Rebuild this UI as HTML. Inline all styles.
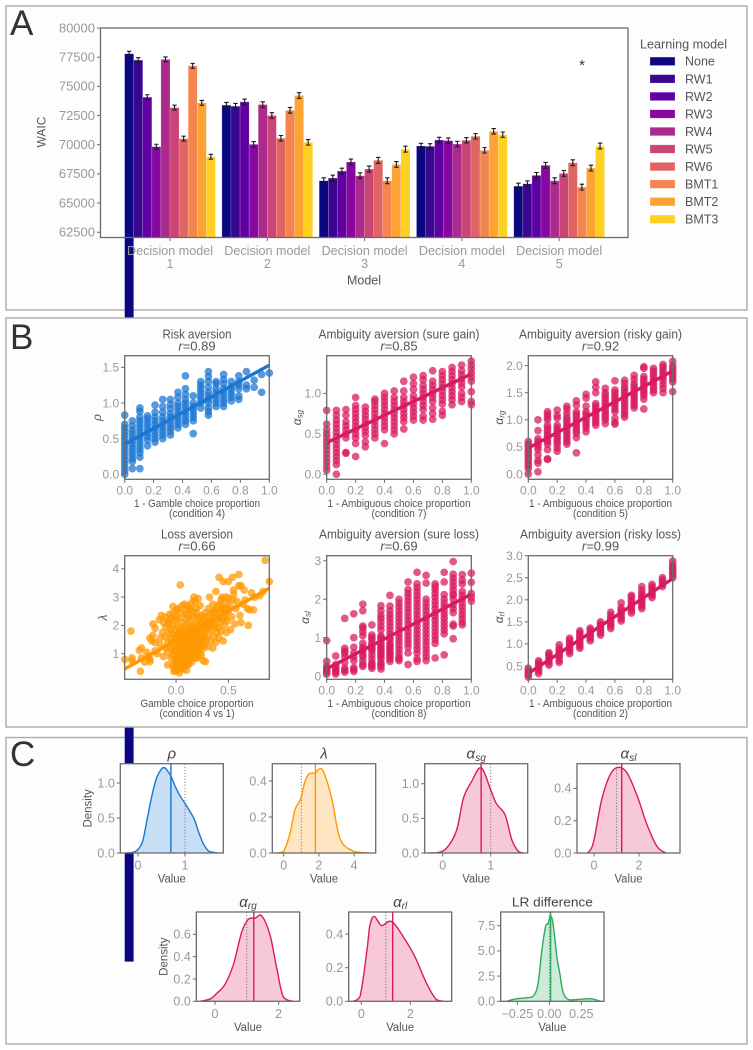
<!DOCTYPE html>
<html lang="en">
<head>
<meta charset="utf-8">
<title>Model comparison figure</title>
<style>
html,body{margin:0;padding:0;background:#fff;width:753px;height:1050px;overflow:hidden}
svg{display:block;font-family:"Liberation Sans","DejaVu Sans",sans-serif}
</style>
</head>
<body>
<svg id="fig" xmlns="http://www.w3.org/2000/svg" width="753" height="1050" viewBox="0 0 753 1050">
  <defs>
    <clipPath id="clipA"><rect x="100.5" y="28" width="527.5" height="209.5"/></clipPath>
  </defs>
  <g id="layerBack">
    <rect x="6" y="6" width="741" height="304" fill="#fdfdfd" stroke="#aaa" stroke-width="1.4"/>
    <rect x="6" y="737.5" width="741" height="306.5" fill="#fdfdfd" stroke="#aaa" stroke-width="1.4"/>
  </g>
  <g id="layerBars"></g>
  <g id="layerA"></g>
  <rect x="6" y="318" width="741" height="409" fill="#fdfdfd" stroke="#aaa" stroke-width="1.4"/>
  <g id="layerB"></g>
  <g id="layerC"></g>
</svg>
<script>
// ---------- Panel A data ----------
const decisionModels = ["1","2","3","4","5"];
const learningModels = ["None","RW1","RW2","RW3","RW4","RW5","RW6","BMT1","BMT2","BMT3"];
const learningColors = ["#0a0780","#3a0591","#5f00a3","#87089f","#ad2a8d","#cb4476","#e06462","#f48550","#fda334","#fed023"];
const waicModel1 = [77795,77250,74070,69830,77310,73180,70520,76760,73585,68970];
const waicModel2 = [73385,73300,73670,70030,73440,72500,70550,72955,74215,70205];
const waicModel3 = [66910,67140,67740,68520,67340,67920,68660,66910,68310,69620];
const waicModel4 = [69890,69860,70405,70350,70060,70380,70720,69520,71150,70860];
const waicModel5 = [66450,66650,67370,68230,66910,67540,68460,66370,68000,69890];
const waicErrors = [210,240,250,230,250];
const waicTicks = [62500,65000,67500,70000,72500,75000,77500,80000];

// ---------- Panel B data ----------
const riskX = [0,.053,.105,.158,.21,.263,.316,.368,.42,.474,.526,.579,.632,.684,.737,.789,.842,.895,.947,1];
const riskY = [
[0,.05,.1,.15,.2,.25,.3,.35,.4,.45,.5,.55,.6,.65,.7,.83],
[.08,.18,.22,.27,.32,.37,.42,.47,.52,.57,.62,.68,.75],
[.08,.24,.3,.35,.4,.45,.5,.55,.6,.65,.7,.75,.8,.88,.93],
[.4,.48,.53,.58,.63,.68,.73,.78,.82],
[.45,.5,.55,.6,.65,.7,.75,.8,.87,.97],
[.5,.55,.6,.65,.7,.75,.8,.87,.95,1.05],
[.55,.6,.65,.7,.75,.8,.85,.92,.98,1.05],
[.65,.7,.75,.8,.85,.9,.95,1,1.08,1.15],
[.7,.75,.8,.85,.9,.95,1,1.05,1.12,1.2,1.38],
[.57,.75,.8,.85,.9,.95,1,1.1],
[.93,1,1.05,1.1,1.15,1.2,1.25,1.3],
[.83,.88,.93,1,1.05,1.1,1.15,1.22,1.3,1.37,1.44],
[.95,1,1.05,1.1,1.15,1.2,1.27,1.3],
[.95,1,1.05,1.1,1.15,1.2,1.27,1.33,1.4],
[1.03,1.08,1.13,1.18,1.23,1.3],
[1.05,1.1,1.2,1.25,1.3,1.38],
[1.2,1.25,1.44],
[1.22,1.32],
[1.15,1.4],
[1.42]];
const riskLine = [.42,1.53];

const sureGainX = [0,.067,.133,.2,.267,.333,.4,.467,.533,.6,.667,.733,.8,.867,.933,1];
const sureGainY = [
[.05,.1,.15,.2,.25,.3,.35,.4,.45,.5,.55,.62,.79],
[0,.12,.17,.22,.27,.32,.37,.42,.47,.52,.57,.62,.67,.73,.79],
[.26,.27,.45,.5,.55,.6,.65,.73,.8],
[.22,.38,.45,.5,.55,.6,.65,.7,.75,.8,.85,.95],
[.34,.4,.48,.53,.58,.63,.68,.73,.78,.83],
[.45,.5,.55,.6,.65,.7,.75,.8,.85,.9,.93],
[.38,.55,.6,.65,.7,.75,.8,.85,.9,.95,1],
[.5,.55,.6,.65,.7,.75,.8,.85,.9,.95,1.03],
[.56,.65,.7,.75,.8,.85,.9,.95,1.03,1.15],
[.67,.72,.77,.82,.87,.92,.97,1.05,1.12,1.2],
[.67,.72,.8,.85,.9,.95,1,1.05,1.1,1.17,1.22],
[.68,.75,.82,.9,.95,1,1.05,1.1,1.15,1.28],
[.73,.78,.87,.92,.97,1.02,1.07,1.12,1.17,1.22,1.27],
[.86,.92,.97,1.02,1.07,1.12,1.17,1.22,1.27,1.32],
[.9,.95,1,1.08,1.13,1.18,1.23,1.28,1.35],
[.86,.9,1.02,1.15,1.2,1.25,1.3,1.35,1.4]];
const sureGainLine = [.39,1.24];

const riskyGainX = [0,.067,.133,.2,.267,.333,.4,.467,.533,.6,.667,.733,.8,.867,.933,1];
const riskyGainY = [
[0,.1,.15,.2,.25,.3,.35,.4,.45,.5,.55,.6],
[.04,.2,.25,.35,.45,.5,.55,.6,.65,.8,1],
[.27,.28,.45,.55,.6,.65,.7,.75,.8,.85,.9,1,1.05,1.1,1.15],
[.42,.48,.55,.6,.65,.7,.75,.8,.85,.9,1.03,1.08,1.18],
[.55,.6,.65,.7,.75,.8,.85,.9,.95,1,1.05,1.12,1.2,1.25],
[.39,.67,.75,.8,.85,.9,.95,1,1.05,1.1,1.15,1.27,1.35],
[.78,.85,.9,.95,1,1.05,1.1,1.15,1.25,1.4,1.47],
[.9,.95,1,1.05,1.1,1.15,1.2,1.25,1.3,1.5,1.6,1.7],
[.93,1,1.05,1.1,1.15,1.2,1.25,1.3,1.35,1.4,1.45,1.5,1.58],
[.92,.95,1.03,1.15,1.2,1.25,1.3,1.35,1.4,1.45,1.5,1.55,1.72],
[1.05,1.1,1.15,1.2,1.25,1.3,1.35,1.4,1.45,1.5,1.55,1.6,1.67,1.73],
[1.22,1.27,1.32,1.37,1.42,1.47,1.52,1.57,1.62,1.67,1.75,1.82],
[1.2,1.38,1.45,1.5,1.55,1.6,1.65,1.7,1.75,1.8,1.95,1.98],
[1.5,1.55,1.6,1.65,1.7,1.75,1.8,1.85,1.9,1.95],
[1.5,1.58,1.65,1.72,1.78,1.83,1.88,1.93,1.98,2.02],
[1.52,1.7,1.75,1.8,1.85,1.9,1.95,2,2.08]];
const riskyGainLine = [.48,1.9];

const lossPoints = [
[-.49,.8],[-.43,1.8],[-.42,.75],[-.42,.85],[-.35,1.12],[-.33,1.2],[-.34,.38],[-.33,.85],[-.3,.7],[-.26,.9],[-.25,.72],[-.25,.8],[-.28,1.05],[-.25,1.55],[-.23,1.45],[-.22,1.65],[-.2,1.4],[-.2,1.9],[-.22,2.05],[-.2,1.1],[-.18,1],[-.16,2.2],[-.15,1.3],[-.15,1.55],[-.14,2.35],[-.13,1.75],[-.12,2.1],[-.12,.9],[-.1,1.2],[-.1,1.6],[-.1,1.95],[-.1,2.3],
[-.08,.6],[-.08,1.05],[-.08,1.4],[-.07,1.75],[-.07,2.05],[-.07,2.15],[-.05,.85],[-.05,1.2],[-.05,1.55],[-.05,1.85],[-.05,2.25],[-.03,.6],[-.03,.95],[-.03,1.3],[-.03,1.65],[-.03,2.0],[-.03,2.67],[-.02,.37],[-.01,.75],[-.01,1.1],[-.01,1.45],[-.01,1.8],[-.01,2.2],[0,.4],[.01,.55],[.01,.9],[.01,1.25],[.01,1.6],[.01,2.0],[.01,2.55],[.02,.45],[.02,.7],[.03,1.05],[.03,1.4],[.03,1.75],[.03,2.25],[.03,.32],[.04,.5],[.04,.85],[.04,1.2],[.04,1.55],[.04,1.9],[.04,3.43],[.05,.62],[.05,1],[.06,1.35],[.06,1.7],[.06,2.1],[.06,2.7],[.07,.45],[.07,.8],[.07,1.15],[.07,1.5],[.07,1.85],[.08,.55],[.08,1],[.09,.7],[.09,1.3],[.09,1.65],[.09,2.0],[.09,2.4],[.1,.42],[.1,.9],[.1,1.1],[.1,1.45],[.1,1.8],[.1,2.25],[.11,.6],[.11,2.7],[.12,1.0],[.12,1.25],[.12,1.6],[.12,1.95],[.13,.8],[.13,2.15],[.13,2.55],[.14,1.15],[.14,1.4],[.14,1.75],[.15,.9],[.15,2.0],[.15,2.8],[.16,1.3],[.16,1.55],[.16,1.85],[.17,1.05],[.17,2.3],[.17,3.0],[.18,1.2],[.18,1.45],[.18,1.7],[.18,2.05],[.19,.85],[.19,2.6],[.2,1.1],[.2,1.35],[.2,1.6],[.2,1.9],[.21,2.2],[.21,2.95],[.22,1.0],[.22,1.25],[.22,1.5],[.22,1.8],[.23,2.05],[.23,2.7],[.24,1.4],[.24,1.65],[.25,1.15],[.25,1.95],[.25,2.35],[.26,.75],[.26,1.55],[.27,1.3],[.27,1.75],[.28,.72],[.28,2.15],[.29,1.5],[.29,1.9],
[.3,1.25],[.3,2.3],[.31,1.7],[.31,2.6],[.32,2.05],[.32,3.0],[.33,1.45],[.33,2.4],[.34,1.85],[.35,1.2],[.35,2.2],[.35,2.75],[.36,1.6],[.37,2.0],[.37,2.5],[.38,1.4],[.38,3.2],[.39,1.75],[.39,2.3],[.4,1.9],[.4,2.7],[.41,3.7],[.41,1.55],[.42,2.1],[.42,2.45],[.43,2.9],[.43,1.8],[.44,3],[.44,2.2],[.45,3.55],[.45,1.45],[.45,2.6],[.46,2.0],[.47,2.35],[.47,2.8],[.48,3],[.48,1.75],[.49,2.15],[.5,2.5],[.5,3.55],[.5,2.95],[.51,2.7],[.52,1.85],[.53,2.3],[.54,3.7],[.54,2.9],[.55,3.25],[.55,3.1],[.56,2.05],[.57,2.6],[.58,2.85],[.6,3.8],[.6,3.4],[.61,2.35],[.62,3.4],[.62,2.1],[.64,2.75],[.65,3.25],[.66,2.9],[.68,2.6],[.69,2],[.7,2.55],[.72,3.15],[.74,2.55],[.75,3],[.8,3.05],[.83,3.2],[.85,4.3],[.89,3.55],
[-.06,2.4],[-.02,2.45],[0,2.3],[.02,2.6],[.05,2.45],[.08,2.75],[.1,2.55],[.12,2.35],[.14,2.6],[.16,2.4],[.18,2.85],[.2,2.45],[.22,2.3],[.24,2.05],[.26,2.25],[.28,2.45],[.3,2.05],[.31,1.95],[.33,2.15],[.35,2.45],[.36,2.0],[.38,2.55],[.4,2.25],[.42,2.75],[.44,2.55],[.46,2.25],[.48,2.6],
[-.02,.5],[0,.7],[.02,.85],[.03,.55],[.05,.75],[.06,.95],[.08,.7],[.1,.75],[.12,.62],[.14,.85],[.15,.7],[.16,1.0],[.18,.95],[.2,.85],[.22,1.15],[.24,.95],
[-.04,1.4],[-.02,1.1],[0,1.5],[.02,1.15],[.02,1.7],[.05,1.3],[.05,1.8],[.08,1.4],[.08,1.75],[.11,1.3],[.11,1.65],[.13,1.45],[.13,1.8],[.15,1.25],[.15,1.55],[.17,1.4],[.17,1.7],[.19,1.2],[.19,1.55],[.21,1.4],[.21,1.7],[.23,1.3],[.23,1.6],[.25,1.5],[.25,1.8],[.27,1.55],[.27,2.0]];
const lossLine = [.46,3.31];

const sureLossX = [0,.0625,.125,.1875,.25,.3125,.375,.4375,.5,.5625,.625,.6875,.75,.8125,.875,.9375,1];
const sureLossY = [
[.05,.1,.15,.2,.25,.38,.92],
[.05,.1,.15,.2,.25,.3,.52],
[.1,.15,.2,.35,.5,.6,.65,.72,1.5],
[.12,.17,.22,.4,.5,.6,.75,1,1.62],
[.25,.3,.4,.5,.55,.65,.7,.75,.85,1.05,1.15,1.25,1.3,1.7,1.87],
[.2,.25,.3,.35,.45,.55,.65,.7,.75,.8,.85,.95,1,1.07,1.33],
[.18,.25,.3,.35,.45,.5,.55,.6,.65,.7,.75,.8,.85,.95,1,1.05,1.2,1.3,1.4,1.5,1.58,1.7,1.83],
[.38,.45,.5,.55,.6,.65,.7,.75,.8,.85,.95,1,1.1,1.2,1.3,1.4,1.5,1.6,1.7,1.82,2.1],
[.4,.45,.5,.6,.7,.8,.9,1,1.1,1.2,1.3,1.4,1.5,1.6,1.7,1.8,1.9,2],
[.3,.6,.75,.85,.95,1.05,1.15,1.25,1.35,1.45,1.55,1.65,1.75,1.85,1.95,2.05,2.15,2.25,2.45],
[.38,.45,.6,.7,.8,.9,1,1.1,1.2,1.3,1.4,1.5,1.6,1.7,1.8,1.9,2,2.1,2.2,2.3,2.4,2.7],
[.4,.5,.6,.7,.8,.9,1,1.1,1.2,1.3,1.4,1.5,1.6,1.7,1.8,1.9,2,2.42,2.62],
[.47,.85,.95,1.05,1.15,1.25,1.35,1.45,1.55,1.65,1.75,1.85,1.95,2.05,2.15,2.25,2.33,2.4],
[.55,1.1,1.2,1.3,1.4,1.5,1.6,1.7,1.8,1.9,2,2.12,2.45,2.7],
[.97,1.3,1.35,1.65,1.75,1.85,2,2.1,2.15,2.25,2.35,2.45,2.55,2.65,2.98],
[1.33,1.4,1.5,1.6,1.7,1.8,1.9,2,2.1,2.2,2.4,2.5,2.64],
[1.95,2.05,2.15,2.44,2.68]];
const sureLossLine = [.19,2.13];

const riskyLossX = [0,.0714,.143,.214,.286,.357,.429,.5,.571,.643,.714,.786,.857,.929,1];
const riskyLossY = [
[.25,.3,.35,.4,.45],
[.33,.38,.43,.48,.53,.58,.62],
[.52,.57,.62,.67,.72,.77,.8],
[.58,.63,.7,.75,.8,.85,.9,.98],
[.78,.83,.88,.93,.98,1.03,1.08,1.13],
[.9,.95,1,1.05,1.1,1.15,1.2,1.25,1.3],
[1.07,1.12,1.17,1.22,1.27,1.32,1.36],
[1.2,1.25,1.3,1.35,1.4,1.45,1.5],
[1.35,1.4,1.45,1.5,1.55,1.6,1.65,1.72],
[1.52,1.57,1.62,1.67,1.72,1.77,1.82,1.93],
[1.7,1.75,1.8,1.85,1.9,1.95,2,2.07,2.1],
[1.8,1.85,1.9,1.95,2,2.05,2.1,2.15,2.22,2.3],
[2.05,2.1,2.15,2.2,2.25,2.3,2.35],
[2.3,2.35,2.4,2.45,2.5],
[2.5,2.55,2.6,2.65,2.7,2.75,2.8,2.88]];
const riskyLossLine = [.33,2.48];

const propTicks = ["0.0","0.2","0.4","0.6","0.8","1.0"];

// ---------- Panel C data ----------
const rhoX = [-.25,-.1,0,.1,.2,.3,.4,.5,.55,.6,.7,.8,.9,1,1.1,1.2,1.3,1.4,1.5,1.6,1.7];
const rhoY = [0,.01,.05,.17,.5,.83,1.08,1.2,1.22,1.2,1.1,.94,.81,.71,.6,.48,.28,.12,.03,.01,0];
const lambdaX = [-.4,0,.36,.64,.96,1.2,1.45,1.78,2.1,2.35,2.75,3.2,3.96,4.9];
const lambdaY = [0,.01,.11,.24,.3,.395,.44,.445,.47,.43,.295,.08,.01,0];
const sgX = [-.3,-.13,.08,.29,.43,.6,.8,1,1.12,1.3,1.44,1.58,1.68];
const sgY = [0,.002,.07,.33,.79,1.03,1.23,.91,.71,.55,.19,.02,0];
const slX = [-.3,-.16,0,.34,.7,1.04,1.45,1.93,2.34,2.8,3.2];
const slY = [0,.02,.08,.33,.48,.53,.5,.35,.18,.04,0];
const rgX = [-.47,-.16,.05,.31,.58,.84,1.05,1.26,1.47,1.73,1.94,2.15,2.46];
const rgY = [0,.02,.07,.15,.33,.62,.735,.745,.765,.595,.3,.04,0];
const rlX = [-.33,-.05,.22,.35,.53,.83,1.24,1.71,2.19,2.67,3.07,3.4];
const rlY = [0,.03,.29,.45,.505,.45,.475,.385,.265,.105,.01,0];
const lrX = [-.33,-.28,-.18,-.13,-.09,-.06,-.03,-.01,.01,.03,.06,.08,.11,.16,.24,.33,.4];
const lrY = [0,.2,.35,.46,1.6,4.9,7.4,7.7,8.45,7.6,4.3,2.9,.8,.13,.2,.25,0];

// ---------- helpers ----------
const NS = "http://www.w3.org/2000/svg";
const C_TICK = "#999", C_LABEL = "#555", C_SPINE = "#6b6b6b";
function mk(tag, parent, attrs){
  const el = document.createElementNS(NS, tag);
  for(const k in (attrs||{})) el.setAttribute(k, attrs[k]);
  parent.appendChild(el);
  return el;
}
function txt(parent, str, x, y, size, color, anchor, width){
  const a = {x:x, y:y, "font-size":size, fill:color, "text-anchor":anchor||"middle"};
  if(width){ a.textLength = width; a.lengthAdjust = "spacingAndGlyphs"; }
  const el = mk("text", parent, a);
  el.textContent = str;
  return el;
}
function mathText(parent, base, sub, x, y, size, color, rot){
  const el = mk("text", parent, {x:x, y:y, "font-size":size, fill:color, "text-anchor":"middle", "font-style":"italic"});
  if(rot) el.setAttribute("transform", "rotate(-90 "+x+" "+y+")");
  const b = mk("tspan", el, {});
  b.textContent = base;
  if(sub){
    const s = mk("tspan", el, {"font-size":size*0.68, dy:size*0.14});
    s.textContent = sub;
  }
  return el;
}
function linear(d0, d1, r0, r1){ return v => r0 + (v - d0) / (d1 - d0) * (r1 - r0); }
function smoothPath(pts){
  let d = "M" + pts[0][0].toFixed(2) + " " + pts[0][1].toFixed(2);
  for(let i = 0; i < pts.length - 1; i++){
    const p0 = pts[Math.max(0,i-1)], p1 = pts[i], p2 = pts[i+1], p3 = pts[Math.min(pts.length-1,i+2)];
    const c1x = p1[0] + (p2[0]-p0[0])/6, c1y = Math.min(p1[1] + (p2[1]-p0[1])/6, Math.max(p1[1],p2[1]));
    const c2x = p2[0] - (p3[0]-p1[0])/6, c2y = Math.min(p2[1] - (p3[1]-p1[1])/6, Math.max(p1[1],p2[1]));
    d += "C" + c1x.toFixed(2) + " " + c1y.toFixed(2) + " " + c2x.toFixed(2) + " " + c2y.toFixed(2) + " " + p2[0].toFixed(2) + " " + p2[1].toFixed(2);
  }
  return d;
}
function frame(parent, l, t, r, b){
  const f = mk("rect", parent, {x:l, y:t, width:r-l, height:b-t, fill:"none", stroke:C_SPINE, "stroke-width":1.3});
  
  
  return f;
}
function background(parent, l, t, r, b){
  const f = mk("rect", parent, {x:l, y:t, width:r-l, height:b-t, fill:"#fff"});
  
  
  return f;
}
function tickX(parent, px, bottom, label, size, baseOffset){
  const t = mk("line", parent, {x1:px, x2:px, y1:bottom, y2:bottom+3.5, stroke:C_SPINE, "stroke-width":1});
  
  
  const l = txt(parent, label, px, bottom+baseOffset, size, C_TICK);
  
  
}
function tickY(parent, py, left, label, size){
  const t = mk("line", parent, {x1:left-3.5, x2:left, y1:py, y2:py, stroke:C_SPINE, "stroke-width":1});
  
  
  const l = txt(parent, label, left-5.5, py+4.3, size, C_TICK, "end");
  
  
}
function panelLetter(parent, s, x, y){
  const l = txt(parent, s, x, y, 35, "#333", "start");
  
  
}

// ---------- Panel A ----------
(function(){
  const barsG = document.getElementById("layerBars");
  const g = document.getElementById("layerA");
  const left = 100.5, right = 628, top = 28, bottom = 237.5;
  const yA = linear(80000, 62050, top, bottom);
  const xA = linear(0, 4, 170, 559.2);
  const barW = 9.08;
  const series = [waicModel1, waicModel2, waicModel3, waicModel4, waicModel5];

  const bg = background(barsG, left, top, right, bottom);
  

  const clipped = mk("g", barsG, {"clip-path":"url(#clipA)"});
  
  
  const errs = mk("g", g, {});
  
  

  frame(g, left, top, right, bottom);

  series.forEach((vals, i) => {
    vals.forEach((v, j) => {
      const bx = xA(i) + (j - 5) * barW;
      const overflow = (i === 0 && j === 0);
      const r = mk("rect", overflow ? barsG : clipped, {x:bx, y:yA(v), width:barW, height:yA(0)-yA(v), fill:learningColors[j], stroke:"#fff", "stroke-opacity":.35, "stroke-width":.5});
      
      
      const cx = bx + barW/2, e = waicErrors[i];
      const path = mk("path", errs, {d:"M"+(cx-2.2)+" "+yA(v+e)+"H"+(cx+2.2)+"M"+cx+" "+yA(v+e)+"V"+yA(v-e)+"M"+(cx-2.2)+" "+yA(v-e)+"H"+(cx+2.2), fill:"none", stroke:"#1a1a1a", "stroke-width":1.1});
      
      
    });
  });

  waicTicks.forEach(t => tickY(g, yA(t), left, String(t), 13));

  decisionModels.forEach((m, i) => {
    const px = xA(i);
    const t = mk("line", g, {x1:px, x2:px, y1:bottom, y2:bottom+3.5, stroke:C_SPINE, "stroke-width":1});
    
    
    const a = txt(g, "Decision model", px, 255.2, 12.5, C_TICK, "middle", 86);
    
    
    const b = txt(g, m, px, 268.2, 12.5, C_TICK);
    
    
  });

  const xt = txt(g, "Model", 364, 284.5, 12.5, C_LABEL, "middle", 34);
  
  
  const yt = txt(g, "WAIC", 45.5, 132, 12, C_LABEL);
  yt.setAttribute("transform", "rotate(-90 45.5 132)");
  
  
  const star = txt(g, "*", 582, 70, 15, "#333");
  
  

  const lt = txt(g, "Learning model", 640, 48.3, 12.5, C_LABEL, "start", 87);
  
  
  learningModels.forEach((name, j) => {
    const ly = 61.3 + j * 17.55;
    const sw = mk("rect", g, {x:650, y:ly-4.2, width:25, height:8.4, fill:learningColors[j], stroke:"#fff", "stroke-opacity":.4, "stroke-width":.5});
    
    
    const lab = txt(g, name, 685, ly+4.4, 12.5, C_LABEL, "start");
    
    
  });
  panelLetter(g, "A", 10, 35);
})();

// ---------- Panel B ----------
function scatterChart(o){
  const parent = document.getElementById("layerB");
  const g = mk("g", parent, {});
  
  
  const clipId = "clip-" + o.id;
  const cp = mk("clipPath", g, {id:clipId});
  mk("rect", cp, {x:o.l-4, y:o.t-4, width:o.r-o.l+8, height:o.b-o.t+8});
  background(g, o.l, o.t, o.r, o.b);
  const sx = linear(o.xlim[0], o.xlim[1], o.l, o.r);
  const sy = linear(o.ylim[0], o.ylim[1], o.b, o.t);
  const inner = mk("g", g, {"clip-path":"url(#"+clipId+")"});
  
  
  o.points.forEach(p => {
    const c = mk("circle", inner, {cx:sx(p[0]), cy:sy(p[1]), r:3.85, fill:o.color, "fill-opacity":.74});
    
    
  });
  const reg = mk("line", inner, {x1:sx(o.xlim[0]), x2:sx(o.xlim[1]), y1:sy(o.line[0]), y2:sy(o.line[1]), stroke:o.color, "stroke-width":3.4});
  
  
  frame(g, o.l, o.t, o.r, o.b);
  o.xticks.forEach(t => tickX(g, sx(parseFloat(t)), o.b, t, 12, 15.2));
  o.yticks.forEach(t => tickY(g, sy(parseFloat(t)), o.l, t, 12));
  const cx = (o.l + o.r) / 2;
  const title = txt(g, o.title, cx, o.t-17.3, 13, C_LABEL, "middle", o.titleW);
  
  
  const rl = mk("text", g, {x:cx, y:o.t-5.3, "font-size":13, fill:C_LABEL, "text-anchor":"middle"});
  
  
  const ri = mk("tspan", rl, {"font-style":"italic"});
  ri.textContent = "r";
  const rv = mk("tspan", rl, {});
  rv.textContent = "=" + o.r2;
  const x1 = txt(g, o.xlabel, cx, o.b+27.7, 11.4, C_LABEL, "middle", o.xlabelW);
  
  
  const x2 = txt(g, o.xlabel2, cx, o.b+37.7, 11.4, C_LABEL, "middle", o.xlabel2W);
  
  
  const yl = mathText(g, o.ysym, o.ysub, o.yLabelX, (o.t+o.b)/2, 12, C_LABEL, true);
  
  
}
function columnsToPoints(xs, ys){
  const out = [];
  xs.forEach((x, i) => ys[i].forEach(y => out.push([x, y])));
  return out;
}
const R1T = 355.7, R1B = 479.3, R2T = 555.7, R2B = 679.3;
const BLUE = "#1976d2", CRIM = "#d81b60", ORNG = "#ff9800", GREEN = "#2eaa5f";
scatterChart({id:"risk", l:124.7, r:269.3, t:R1T, b:R1B, xlim:[0,1], ylim:[-.07,1.663], points:columnsToPoints(riskX,riskY), line:riskLine, color:BLUE, xticks:propTicks, yticks:["0.0","0.5","1.0","1.5"], title:"Risk aversion", titleW:69, r2:"0.89", xlabel:"1 - Gamble choice proportion", xlabelW:126, xlabel2:"(condition 4)", xlabel2W:56, ysym:"ρ", ysub:"", yLabelX:101});
scatterChart({id:"sure-gain", l:326.7, r:471.3, t:R1T, b:R1B, xlim:[0,1], ylim:[-.062,1.466], points:columnsToPoints(sureGainX,sureGainY), line:sureGainLine, color:CRIM, xticks:propTicks, yticks:["0.0","0.5","1.0"], title:"Ambiguity aversion (sure gain)", titleW:161, r2:"0.85", xlabel:"1 - Ambiguous choice proportion", xlabelW:143, xlabel2:"(condition 7)", xlabel2W:55, ysym:"α", ysub:"sg", yLabelX:301});
scatterChart({id:"risky-gain", l:528.3, r:672.7, t:R1T, b:R1B, xlim:[0,1], ylim:[-.098,2.183], points:columnsToPoints(riskyGainX,riskyGainY), line:riskyGainLine, color:CRIM, xticks:propTicks, yticks:["0.0","0.5","1.0","1.5","2.0"], title:"Ambiguity aversion (risky gain)", titleW:163, r2:"0.92", xlabel:"1 - Ambiguous choice proportion", xlabelW:143, xlabel2:"(condition 5)", xlabel2W:55, ysym:"α", ysub:"rg", yLabelX:503});
scatterChart({id:"loss", l:124.7, r:269.3, t:R2T, b:R2B, xlim:[-.49,.89], ylim:[.095,4.463], points:lossPoints, line:lossLine, color:ORNG, xticks:["0.0","0.5"], yticks:["1","2","3","4"], title:"Loss aversion", titleW:72, r2:"0.66", xlabel:"Gamble choice proportion", xlabelW:113, xlabel2:"(condition 4 vs 1)", xlabel2W:75, ysym:"λ", ysub:"", yLabelX:107});
scatterChart({id:"sure-loss", l:326.7, r:471.3, t:R2T, b:R2B, xlim:[0,1], ylim:[-.086,3.133], points:columnsToPoints(sureLossX,sureLossY), line:sureLossLine, color:CRIM, xticks:propTicks, yticks:["0","1","2","3"], title:"Ambiguity aversion (sure loss)", titleW:160, r2:"0.69", xlabel:"1 - Ambiguous choice proportion", xlabelW:143, xlabel2:"(condition 8)", xlabel2W:55, ysym:"α", ysub:"sl", yLabelX:309});
scatterChart({id:"risky-loss", l:528.3, r:672.7, t:R2T, b:R2B, xlim:[0,1], ylim:[.198,3.0], points:columnsToPoints(riskyLossX,riskyLossY), line:riskyLossLine, color:CRIM, xticks:propTicks, yticks:["0.5","1.0","1.5","2.0","2.5","3.0"], title:"Ambiguity aversion (risky loss)", titleW:161, r2:"0.99", xlabel:"1 - Ambiguous choice proportion", xlabelW:143, xlabel2:"(condition 2)", xlabel2W:55, ysym:"α", ysub:"rl", yLabelX:503});
panelLetter(document.getElementById("layerB"), "B", 10, 349);

// ---------- Panel C ----------
function kdeChart(o){
  const parent = document.getElementById("layerC");
  const g = mk("g", parent, {});
  
  
  const clipId = "clipk-" + o.id;
  const cp = mk("clipPath", g, {id:clipId});
  mk("rect", cp, {x:o.l, y:o.t, width:o.r-o.l, height:o.b-o.t});
  background(g, o.l, o.t, o.r, o.b);
  const sx = linear(o.xlim[0], o.xlim[1], o.l, o.r);
  const sy = linear(0, o.ymax, o.b, o.t);
  const pts = o.xs.map((x, i) => [sx(x), sy(o.ys[i])]);
  const line = smoothPath(pts);
  const inner = mk("g", g, {"clip-path":"url(#"+clipId+")"});
  
  
  const fill = mk("path", inner, {d:line+"L"+pts[pts.length-1][0].toFixed(2)+" "+o.b+"L"+pts[0][0].toFixed(2)+" "+o.b+"Z", fill:o.color, "fill-opacity":.24});
  
  
  const ref = mk("line", inner, {x1:sx(o.ref), x2:sx(o.ref), y1:o.t, y2:o.b, stroke:"#777", "stroke-width":1, "stroke-dasharray":"1.2 1.8"});
  
  
  const curve = mk("path", inner, {d:line, fill:"none", stroke:o.color, "stroke-width":1.4});
  
  
  const mean = mk("line", inner, {x1:sx(o.mean), x2:sx(o.mean), y1:o.t, y2:o.b, stroke:o.color, "stroke-width":1.4});
  
  
  frame(g, o.l, o.t, o.r, o.b);
  o.xticks.forEach((t, i) => tickX(g, sx(t), o.b, o.xtickLabels[i], 12.5, 16.5));
  o.yticks.forEach(t => tickY(g, sy(parseFloat(t)), o.l, t, 12.5));
  const cx = (o.l + o.r) / 2;
  let title;
  if(o.sym){ title = mathText(g, o.sym, o.sub, cx, o.t-5, 15, "#444", false); }
  else { title = txt(g, o.title, cx, o.t-5.5, 13, "#444", "middle", 81); }
  
  
  const xl = txt(g, "Value", cx, o.b+29.5, 11.5, C_LABEL, "middle", 28);
  
  
  if(o.density){
    const yx = o.l-29, yy = (o.t+o.b)/2;
    const yl = txt(g, "Density", yx, yy, 11.5, C_LABEL);
    yl.setAttribute("transform", "rotate(-90 "+yx+" "+yy+")");
    
    
  }
}
const K1T = 763.7, K1B = 853, K2T = 912, K2B = 1001.3;
kdeChart({id:"rho", l:120.3, r:223.3, t:K1T, b:K1B, xlim:[-.376,1.815], ymax:1.276, xs:rhoX, ys:rhoY, mean:.7, ref:1, color:BLUE, xticks:[0,1], xtickLabels:["0","1"], yticks:["0.0","0.5","1.0"], sym:"ρ", sub:"", density:true});
kdeChart({id:"lambda", l:272.3, r:375.7, t:K1T, b:K1B, xlim:[-.648,5.227], ymax:.496, xs:lambdaX, ys:lambdaY, mean:1.8, ref:1, color:ORNG, xticks:[0,2,4], xtickLabels:["0","2","4"], yticks:["0.0","0.2","0.4"], sym:"λ", sub:""});
kdeChart({id:"alpha-sg", l:424.7, r:527.7, t:K1T, b:K1B, xlim:[-.375,1.77], ymax:1.289, xs:sgX, ys:sgY, mean:.8, ref:1, color:CRIM, xticks:[0,1], xtickLabels:["0","1"], yticks:["0.0","0.5","1.0"], sym:"α", sub:"sg"});
kdeChart({id:"alpha-sl", l:577, r:680, t:K1T, b:K1B, xlim:[-.756,3.82], ymax:.553, xs:slX, ys:slY, mean:1.23, ref:1, color:CRIM, xticks:[0,2], xtickLabels:["0","2"], yticks:["0.0","0.2","0.4"], sym:"α", sub:"sl"});
kdeChart({id:"alpha-rg", l:196.3, r:299.7, t:K2T, b:K2B, xlim:[-.588,2.664], ymax:.8, xs:rgX, ys:rgY, mean:1.22, ref:1, color:CRIM, xticks:[0,2], xtickLabels:["0","2"], yticks:["0.0","0.2","0.4","0.6"], sym:"α", sub:"rg", density:true});
kdeChart({id:"alpha-rl", l:348.7, r:451.7, t:K2T, b:K2B, xlim:[-.514,3.69], ymax:.5315, xs:rlX, ys:rlY, mean:1.28, ref:1, color:CRIM, xticks:[0,2], xtickLabels:["0","2"], yticks:["0.0","0.2","0.4"], sym:"α", sub:"rl"});
kdeChart({id:"lr-difference", l:500.7, r:604, t:K2T, b:K2B, xlim:[-.38,.427], ymax:8.86, xs:lrX, ys:lrY, mean:.01, ref:0, color:GREEN, xticks:[-.25,0,.25], xtickLabels:["\u22120.25","0.00","0.25"], yticks:["0.0","2.5","5.0","7.5"], title:"LR difference"});
panelLetter(document.getElementById("layerC"), "C", 10, 766);
</script>
</body>
</html>
